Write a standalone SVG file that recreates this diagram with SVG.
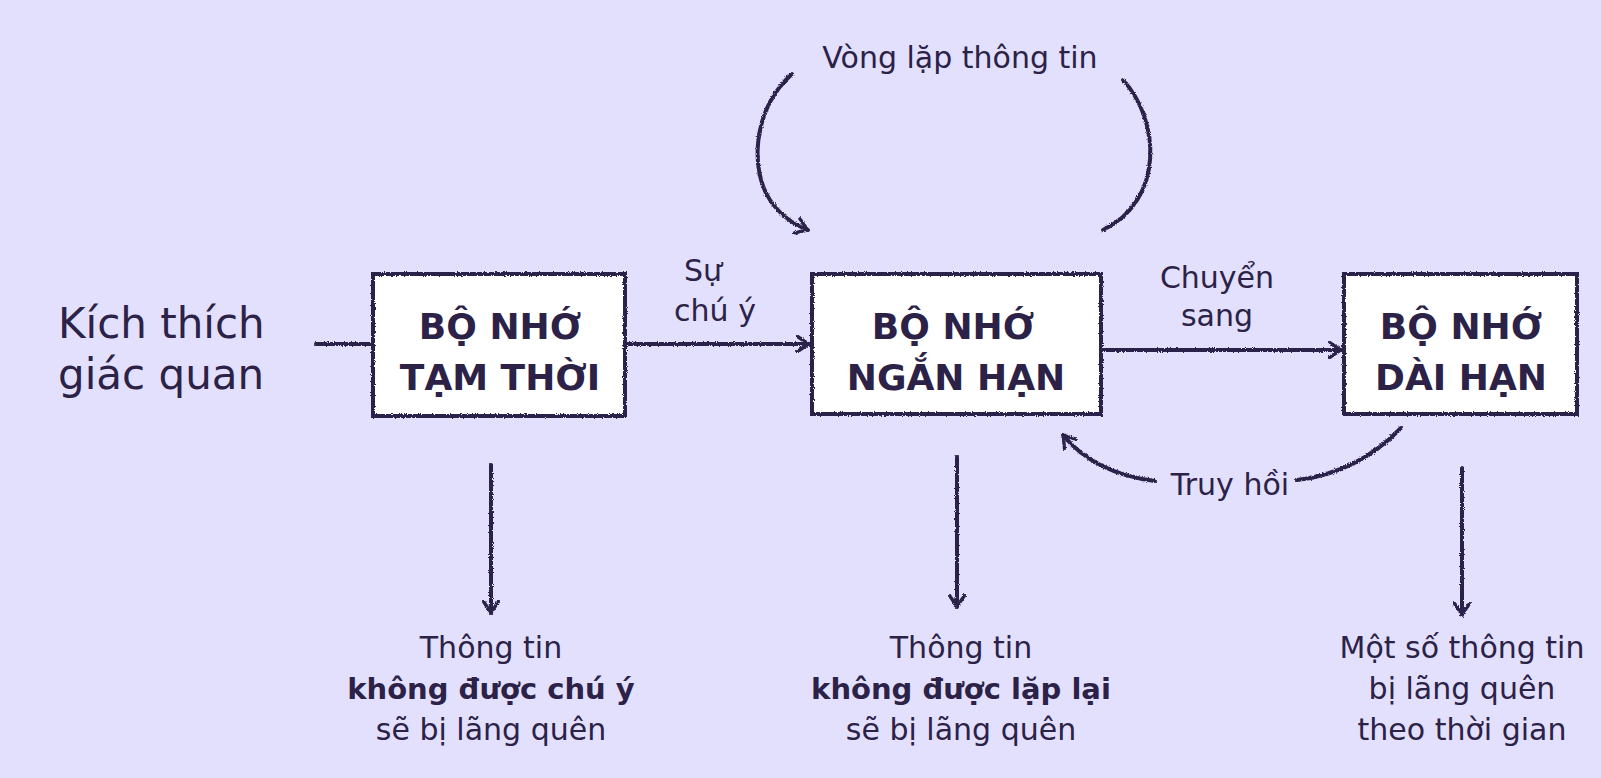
<svg xmlns="http://www.w3.org/2000/svg" width="1601" height="778" viewBox="0 0 1601 778">
<style>
  .ink{stroke:#2c2248;stroke-width:4;fill:none;stroke-linecap:round;stroke-linejoin:round}
  .box{fill:#ffffff;stroke:#2c2248;stroke-width:4}
  .t{font-family:"DejaVu Sans","Liberation Sans",sans-serif;fill:#2c2248}
  .boxt{font-family:"DejaVu Sans","Liberation Sans",sans-serif;font-weight:700;fill:#2c2248;font-size:36px;text-anchor:middle}
  .lbl{font-size:30px;text-anchor:middle}
  .note{font-size:30px;text-anchor:middle}
  .b{font-weight:700;font-size:29px}
</style>
<defs>
  <filter id="rough" x="-5%" y="-5%" width="110%" height="110%">
    <feTurbulence type="fractalNoise" baseFrequency="0.9" numOctaves="2" seed="3" result="n"/>
    <feDisplacementMap in="SourceGraphic" in2="n" scale="3" xChannelSelector="R" yChannelSelector="G"/>
  </filter>
  <marker id="arr" viewBox="0 0 14 18" refX="13" refY="9" markerWidth="14" markerHeight="18" markerUnits="userSpaceOnUse" orient="auto">
    <path d="M1.5,1.5 L12.5,9 L1.5,16.5" fill="none" stroke="#2c2248" stroke-width="3.4" stroke-linecap="round" stroke-linejoin="round"/>
  </marker>
</defs>
<rect width="1601" height="778" fill="#e2e0fc"/>

<g id="input-label">
  <text class="t" x="58" y="338" font-size="42">Kích thích</text>
  <text class="t" x="58" y="389" font-size="42">giác quan</text>
</g>

<g id="connectors" filter="url(#rough)">
  <path class="ink" d="M316,344 L373,344"/>
  <path class="ink" d="M625,344 L809,344" marker-end="url(#arr)"/>
  <path class="ink" d="M1101,350 L1341,350" marker-end="url(#arr)"/>
  <path class="ink" d="M792,74 C752,110 750,170 770,200 C780,215 795,225 808,230" marker-end="url(#arr)"/>
  <path class="ink" d="M1123,80 C1160,120 1165,200 1103,230"/>
  <path class="ink" d="M1401,428 C1375,455 1340,475 1297,480"/>
  <path class="ink" d="M1155,481 C1115,476 1085,462 1063,435" marker-end="url(#arr)"/>
  <path class="ink" d="M491,465 L491,613" marker-end="url(#arr)"/>
  <path class="ink" d="M957,457 L957,607" marker-end="url(#arr)"/>
  <path class="ink" d="M1462,468 L1462,615" marker-end="url(#arr)"/>
</g>

<g id="node-sensory">
  <rect class="box" x="373" y="274" width="252" height="142" filter="url(#rough)"/>
  <text class="boxt" x="500" y="339">BỘ NHỚ</text>
  <text class="boxt" x="500" y="390">TẠM THỜI</text>
</g>
<g id="node-short">
  <rect class="box" x="812" y="274" width="289" height="140" filter="url(#rough)"/>
  <text class="boxt" x="953" y="339">BỘ NHỚ</text>
  <text class="boxt" x="956" y="390">NGẮN HẠN</text>
</g>
<g id="node-long">
  <rect class="box" x="1344" y="274" width="233" height="140" filter="url(#rough)"/>
  <text class="boxt" x="1461" y="339">BỘ NHỚ</text>
  <text class="boxt" x="1461" y="390">DÀI HẠN</text>
</g>

<g id="labels">
  <text class="t lbl" x="703" y="281">Sự</text>
  <text class="t lbl" x="715" y="321">chú ý</text>
  <text class="t lbl" x="1217" y="288">Chuyển</text>
  <text class="t lbl" x="1217" y="326">sang</text>
  <text class="t lbl" x="960" y="68">Vòng lặp thông tin</text>
  <text class="t lbl" x="1230" y="495">Truy hồi</text>
</g>

<g id="note-sensory">
  <text class="t note" x="491" y="658">Thông tin</text>
  <text class="t note b" x="491" y="699">không được chú ý</text>
  <text class="t note" x="491" y="740">sẽ bị lãng quên</text>
</g>
<g id="note-short">
  <text class="t note" x="961" y="658">Thông tin</text>
  <text class="t note b" x="961" y="699">không được lặp lại</text>
  <text class="t note" x="961" y="740">sẽ bị lãng quên</text>
</g>
<g id="note-long">
  <text class="t note" x="1462" y="658">Một số thông tin</text>
  <text class="t note" x="1462" y="699">bị lãng quên</text>
  <text class="t note" x="1462" y="740">theo thời gian</text>
</g>
</svg>
